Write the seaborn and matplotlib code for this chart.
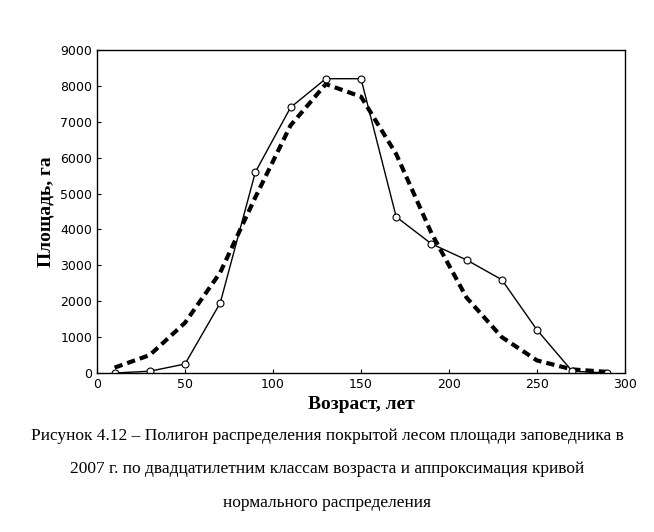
import matplotlib
matplotlib.use("Agg")
import matplotlib.pyplot as plt
import seaborn as sns
import pandas as pd

age = [10, 30, 50, 70, 90, 110, 130, 150, 170, 190, 210, 230, 250, 270, 290]
area = [0, 50, 250, 1950, 5600, 7400, 8200, 8200, 4350, 3600, 3150, 2600, 1200, 50, 0]
normal = [150, 500, 1400, 2800, 4900, 6900, 8050, 7700, 6100, 3900, 2100, 1000, 350, 100, 30]

df = pd.DataFrame({"age": age, "area": area, "normal": normal})

sns.set_style("white")
fig = plt.figure(figsize=(6.54, 5.32), dpi=100)
ax = fig.add_axes([97/654, 1-373/532, (625-97)/654, (373-50)/532])

sns.lineplot(data=df, x="age", y="normal", ax=ax, color="black", lw=3,
             linestyle=(0, (2, 1.2)))
sns.lineplot(data=df, x="age", y="area", ax=ax, color="black", lw=1,
             marker="o", markersize=5, markerfacecolor="white",
             markeredgecolor="black", markeredgewidth=0.8)

ax.set_xlim(0, 300)
ax.set_ylim(0, 9000)
ax.set_xticks(range(0, 301, 50))
ax.set_yticks(range(0, 9001, 1000))
ax.tick_params(labelsize=9, direction="in", length=3, left=True, bottom=True, colors="black")
for s in ax.spines.values():
    s.set_color("black"); s.set_linewidth(1)
ax.set_xlabel("Возраст, лет", family="Liberation Serif", fontweight="bold", fontsize=14, color="black")
ax.set_ylabel("Площадь, га", family="Liberation Serif", fontweight="bold", fontsize=14, color="black")

cap = ("Рисунок 4.12 – Полигон распределения покрытой лесом площади заповедника в\n"
       "2007 г. по двадцатилетним классам возраста и аппроксимация кривой\n"
       "нормального распределения")
fig.text(0.5, 1 - 428/532, cap, ha="center", va="top", family="Liberation Serif",
         fontsize=12.5, linespacing=2.45, color="black")

fig.savefig("out.png", dpi=100)
